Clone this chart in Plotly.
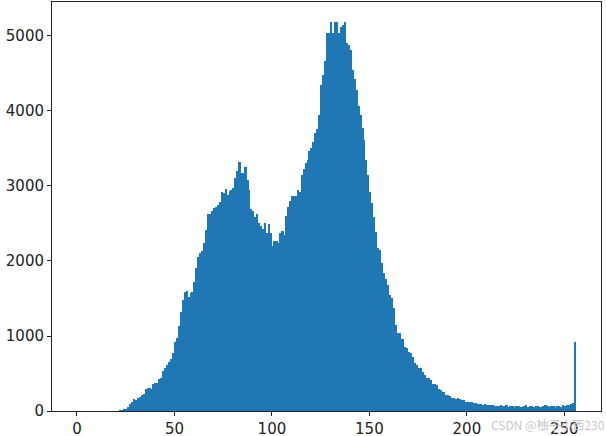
import plotly.graph_objects as go

# pixel value bins 0..255
bins = list(range(256))

counts = [0]*22 + [
    3, 8, 15, 30,                                   # 22-25
    60, 95, 120, 160, 150, 170, 190, 210, 230, 300,  # 26-35
    310, 305, 300, 355, 370, 380, 430, 440, 530, 580,  # 36-45
    610, 650, 700, 780, 920, 970, 1130, 1320, 1480, 1590,  # 46-55
    1600, 1520, 1570, 1590, 1720, 1900, 2050, 2100, 2130, 2240,  # 56-65
    2410, 2620, 2630, 2660, 2700, 2720, 2750, 2790, 2920, 2900,  # 66-75
    2960, 2880, 2930, 2950, 2970, 3100, 3200, 3320, 3170, 3170,  # 76-85
    3250, 3080, 2950, 2690, 2670, 2580, 2620, 2500, 2460, 2420,  # 86-95
    2510, 2370, 2490, 2370, 2200, 2270, 2270, 2240, 2370, 2400,  # 96-105
    2350, 2600, 2720, 2800, 2860, 2870, 2860, 2950, 2920, 3150,  # 106-115
    3230, 3300, 3350, 3460, 3500, 3580, 3710, 3760, 3940, 4340,  # 116-125
    4480, 4670, 5040, 5040, 5180, 5040, 5180, 5180, 5040, 5120,  # 126-135
    5150, 5190, 4900, 4880, 4810, 4550, 4420, 4280, 4060, 3950,  # 136-145
    3770, 3610, 3350, 3150, 2920, 2770, 2590, 2380, 2170, 2150,  # 146-155
    1970, 1840, 1760, 1680, 1550, 1500, 1370, 1150, 1045, 1035,  # 156-165
    960, 955, 860, 835, 790, 770, 725, 640, 615, 580,            # 166-175
    570, 525, 480, 440, 435, 410, 355, 355, 350, 290,            # 176-185
    285, 260, 255, 215, 210, 200, 170, 170, 165, 170,            # 186-195
    160, 150, 145, 125, 125, 120, 125, 110, 105, 100,            # 196-205
    100, 95, 85, 90, 80, 80, 75, 80, 70, 72,                     # 206-215
    68, 75, 70, 62, 75, 58, 66, 72, 55, 64,                      # 216-225
    70, 60, 52, 68, 74, 58, 62, 70, 55, 66,                      # 226-235
    72, 60, 58, 68, 75, 62, 56, 70, 66, 60,                      # 236-245
    72, 64, 58, 75, 68, 80, 76, 90, 110, 916,                    # 246-255
]

x_ticks = [0, 50, 100, 150, 200, 250]
y_ticks = [0, 1000, 2000, 3000, 4000, 5000]

fig = go.Figure()
fig.add_trace(go.Bar(
    x=[b + 0.5 for b in bins],
    y=counts,
    width=1.0,
    marker=dict(color="#1f77b4", line=dict(width=0)),
    showlegend=False,
))

axis_common = dict(
    showgrid=False, zeroline=False,
    showline=True, linecolor="#222222", linewidth=1, mirror=True,
    ticks="outside", ticklen=4, tickcolor="#222222", tickwidth=1,
    tickfont=dict(family="DejaVu Sans", size=15, color="#222222"),
)

L, R, T, B = 52, 5, 2, 25
fig.update_layout(
    width=606, height=436,
    margin=dict(l=L, r=R, t=T, b=B, autoexpand=False),
    paper_bgcolor="white", plot_bgcolor="white",
    bargap=0,
    xaxis=dict(range=[-12.8, 268.8], tickvals=x_ticks,
               ticktext=[str(v) for v in x_ticks], **axis_common),
    yaxis=dict(range=[0, 5453], tickvals=y_ticks,
               ticktext=[str(v) for v in y_ticks], **axis_common),
    annotations=[dict(
        text="CSDN @柚子小西230",
        x=(489 - L) / (606 - L - R), y=-(424 - 411) / (436 - T - B),
        xref="paper", yref="paper",
        showarrow=False, xanchor="left", yanchor="middle",
        font=dict(family="Noto Sans CJK SC", size=12, color="#c8c8c8"),
    )],
)

fig.write_html(
    "out.html",
    config={"displayModeBar": False},
    post_script="document.body.style.margin='0';document.body.style.padding='0';",
)
